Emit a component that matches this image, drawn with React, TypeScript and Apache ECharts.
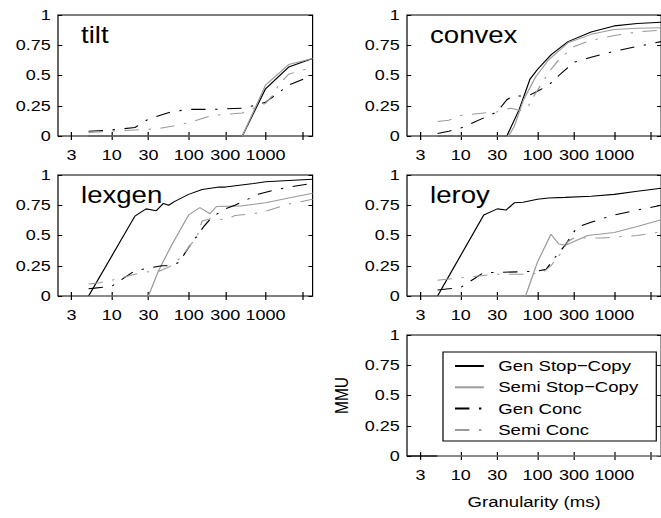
import React, { useEffect, useRef } from 'react';
import * as echarts from 'echarts';

// ---------- data ----------
const SERIES_NAMES = ['Gen Stop\u2212Copy', 'Semi Stop\u2212Copy', 'Gen Conc', 'Semi Conc'];
const PANEL_TITLES = ['tilt', 'convex', 'lexgen', 'leroy'];
const X_TICK_VALUES = [3, 10, 30, 100, 300, 1000, 3000];
const X_LABEL_VALUES = [3, 10, 30, 100, 300, 1000];
const X_MIN = 2;
const X_MAX = 4096;
const Y_AXIS_NAME = 'MMU';
const X_AXIS_NAME = 'Granularity (ms)';

const tiltGenStop = [[5, 0], [500, 0], [1000, 0.39], [2000, 0.57], [4096, 0.64]];
const tiltSemiStop = [[5, 0], [500, 0], [1000, 0.42], [2000, 0.59], [4096, 0.64]];
const tiltGenConc = [[5, 0.04], [10, 0.05], [20, 0.07], [30, 0.14], [60, 0.2], [100, 0.22], [200, 0.22], [500, 0.23], [700, 0.25], [1000, 0.28], [1500, 0.36], [2000, 0.42], [4096, 0.5]];
const tiltSemiConc = [[5, 0.03], [10, 0.04], [20, 0.05], [40, 0.06], [60, 0.08], [100, 0.11], [200, 0.17], [500, 0.19], [700, 0.23], [1000, 0.27], [1300, 0.35], [1500, 0.43], [2000, 0.51], [4096, 0.57]];

const convexGenStop = [[5, 0], [40, 0], [58, 0.22], [80, 0.47], [100, 0.55], [150, 0.67], [250, 0.78], [500, 0.86], [1000, 0.91], [2000, 0.93], [4096, 0.94]];
const convexSemiStop = [[5, 0], [42, 0], [50, 0.08], [66, 0.3], [95, 0.49], [140, 0.63], [250, 0.77], [500, 0.84], [1000, 0.88], [2000, 0.89], [4096, 0.895]];
const convexGenConc = [[5, 0.02], [7, 0.04], [10, 0.065], [20, 0.15], [30, 0.2], [40, 0.3], [48, 0.33], [75, 0.33], [100, 0.37], [140, 0.42], [190, 0.5], [300, 0.61], [500, 0.65], [1000, 0.7], [2000, 0.74], [4096, 0.78]];
const convexSemiConc = [[5, 0.12], [7, 0.13], [10, 0.17], [20, 0.19], [30, 0.2], [45, 0.23], [60, 0.21], [75, 0.24], [90, 0.33], [110, 0.42], [150, 0.55], [190, 0.63], [300, 0.74], [500, 0.79], [1000, 0.83], [2000, 0.86], [4096, 0.875]];

const lexgenGenStop = [[5, 0], [20, 0.66], [28, 0.72], [38, 0.705], [47, 0.765], [55, 0.75], [65, 0.78], [100, 0.84], [150, 0.88], [250, 0.9], [300, 0.9], [700, 0.93], [1000, 0.945], [2000, 0.955], [4096, 0.965]];
const lexgenSemiStop = [[5, 0], [30, 0], [40, 0.2], [60, 0.42], [100, 0.67], [140, 0.73], [190, 0.68], [230, 0.74], [500, 0.745], [1000, 0.77], [2000, 0.81], [4096, 0.85]];
const lexgenGenConc = [[5, 0.06], [6, 0.065], [10, 0.08], [20, 0.21], [30, 0.23], [45, 0.25], [60, 0.25], [75, 0.28], [100, 0.4], [130, 0.5], [160, 0.58], [200, 0.65], [300, 0.72], [400, 0.75], [800, 0.84], [1200, 0.87], [2000, 0.9], [4096, 0.93]];
const lexgenSemiConc = [[5, 0.1], [7, 0.11], [10, 0.13], [20, 0.18], [30, 0.2], [40, 0.2], [60, 0.25], [80, 0.32], [100, 0.4], [130, 0.5], [150, 0.62], [200, 0.64], [300, 0.63], [400, 0.665], [700, 0.68], [1000, 0.7], [2000, 0.76], [4096, 0.8]];

const leroyGenStop = [[5, 0], [20, 0.67], [30, 0.72], [39, 0.71], [50, 0.77], [65, 0.775], [100, 0.8], [140, 0.81], [230, 0.815], [500, 0.825], [1000, 0.84], [2000, 0.865], [4096, 0.89]];
const leroySemiStop = [[5, 0], [70, 0], [100, 0.28], [150, 0.51], [190, 0.43], [232, 0.42], [450, 0.5], [1000, 0.525], [2000, 0.575], [4096, 0.63]];
const leroyGenConc = [[5, 0.05], [7, 0.06], [10, 0.07], [20, 0.195], [30, 0.195], [60, 0.2], [100, 0.205], [130, 0.22], [170, 0.32], [230, 0.42], [330, 0.57], [500, 0.61], [1000, 0.67], [2000, 0.71], [4096, 0.75]];
const leroySemiConc = [[5, 0.13], [7, 0.14], [10, 0.15], [20, 0.17], [30, 0.18], [70, 0.18], [115, 0.19], [150, 0.25], [200, 0.35], [250, 0.45], [300, 0.48], [700, 0.48], [2000, 0.5], [4096, 0.53]];

const legendPanelGenStop = [[2, 0], [5, 0]];
const legendPanelSemiStop = [[5, 0], [4096, 0]];

const PANEL_DATA = [
  [tiltGenStop, tiltSemiStop, tiltGenConc, tiltSemiConc],
  [convexGenStop, convexSemiStop, convexGenConc, convexSemiConc],
  [lexgenGenStop, lexgenSemiStop, lexgenGenConc, lexgenSemiConc],
  [leroyGenStop, leroySemiStop, leroyGenConc, leroySemiConc],
];

// ---------- layout / style ----------
const S = 1.2; // horizontal stretch of the whole figure
const W = 661;
const H = 518;
const FONT = '"Liberation Sans", Arial, Helvetica, sans-serif';
const COLORS = ['#000000', '#9a9a9a', '#000000', '#9a9a9a'];
const DASHDOT = [12, 8, 2, 8];
const TYPES: any[] = ['solid', 'solid', DASHDOT, DASHDOT];
const COL_LEFT = [58, 407];
const ROW_TOP = [15, 175, 335];
const GRID_W = 254.6;
const GRID_H = 121;
const PANELS = [
  { c: 0, r: 0 },
  { c: 1, r: 0 },
  { c: 0, r: 1 },
  { c: 1, r: 1 },
  { c: 1, r: 2 },
];

const lg = (v: number) => Math.log10(v);

function makeSeries(name: string, k: number, gi: number, d: number[][]) {
  return {
    type: 'line',
    name,
    xAxisIndex: 2 * gi,
    yAxisIndex: 2 * gi,
    data: d.map(([x, y]) => [lg(x), y]),
    symbol: 'none',
    showSymbol: false,
    clip: false,
    lineStyle: { color: COLORS[k], width: 1.05, type: TYPES[k] },
    itemStyle: { color: COLORS[k] },
    z: 2 + k,
  };
}

function buildOption() {
  const grid: any[] = [];
  const xAxis: any[] = [];
  const yAxis: any[] = [];
  const series: any[] = [];
  const title: any[] = [];

  PANELS.forEach((p, i) => {
    grid.push({
      left: COL_LEFT[p.c] / S,
      top: ROW_TOP[p.r],
      width: GRID_W / S,
      height: GRID_H,
      show: true,
      borderColor: '#000',
      borderWidth: 1,
      backgroundColor: 'transparent',
      containLabel: false,
    });
    const isLegendPanel = i === 4;
    xAxis.push({
      type: 'value',
      gridIndex: i,
      position: 'bottom',
      min: lg(X_MIN),
      max: lg(X_MAX),
      axisLine: { show: false },
      splitLine: { show: false },
      axisTick: {
        inside: true,
        length: 4,
        customValues: X_TICK_VALUES.map(lg),
        lineStyle: { color: '#000', width: 1 },
      },
      axisLabel: {
        customValues: X_LABEL_VALUES.map(lg),
        formatter: (v: number) => String(Math.round(Math.pow(10, v))),
        fontSize: 15,
        color: '#000',
        fontFamily: FONT,
        margin: 11.5,
      },
      name: isLegendPanel ? X_AXIS_NAME : '',
      nameLocation: 'middle',
      nameGap: 38,
      nameTextStyle: { fontSize: 15.5, color: '#000', fontFamily: FONT },
    });
    xAxis.push({
      type: 'value',
      gridIndex: i,
      position: 'top',
      min: lg(X_MIN),
      max: lg(X_MAX),
      axisLine: { show: false },
      splitLine: { show: false },
      axisTick: {
        inside: true,
        length: 4,
        customValues: X_TICK_VALUES.map(lg),
        lineStyle: { color: '#000', width: 1 },
      },
      axisLabel: { show: false },
    });
    yAxis.push({
      type: 'value',
      gridIndex: i,
      position: 'left',
      min: 0,
      max: 1,
      interval: 0.25,
      axisLine: { show: false },
      splitLine: { show: false },
      axisTick: { inside: true, length: 3.5, lineStyle: { color: '#000', width: 1 } },
      axisLabel: { fontSize: 15, color: '#000', fontFamily: FONT, margin: 6 },
      name: isLegendPanel ? Y_AXIS_NAME : '',
      nameLocation: 'middle',
      nameGap: 46,
      nameTextStyle: { fontSize: 15.5, color: '#000', fontFamily: FONT },
    });
    yAxis.push({
      type: 'value',
      gridIndex: i,
      position: 'right',
      min: 0,
      max: 1,
      interval: 0.25,
      axisLine: { show: false },
      splitLine: { show: false },
      axisTick: { inside: true, length: 3.5, lineStyle: { color: '#000', width: 1 } },
      axisLabel: { show: false },
    });

    if (!isLegendPanel) {
      title.push({
        text: PANEL_TITLES[i],
        left: (COL_LEFT[p.c] + 23) / S,
        top: ROW_TOP[p.r] + 8.6,
        padding: 0,
        textStyle: { fontSize: 23, fontWeight: 'normal', color: '#000', fontFamily: FONT },
      });
      PANEL_DATA[i].forEach((d, k) => series.push(makeSeries(SERIES_NAMES[k], k, i, d)));
    } else {
      [legendPanelGenStop, legendPanelSemiStop].forEach((d, k) =>
        series.push(makeSeries(SERIES_NAMES[k], k, i, d))
      );
    }
  });

  return {
    animation: false,
    backgroundColor: '#fff',
    textStyle: { fontFamily: FONT },
    title,
    grid,
    xAxis,
    yAxis,
    series,
    legend: {
      data: SERIES_NAMES,
      orient: 'vertical',
      left: 443 / S,
      top: 352,
      itemWidth: 24,
      itemHeight: 14,
      itemGap: 5.3,
      padding: [6, 15, 3, 9],
      borderColor: '#000',
      borderWidth: 1,
      backgroundColor: '#fff',
      selectedMode: false,
      itemStyle: { opacity: 0 },
      textStyle: { fontSize: 15.5, color: '#000', fontFamily: FONT, padding: [0, 0, 0, 7] },
    },
  };
}

export default function App() {
  const ref = useRef<HTMLDivElement>(null);
  useEffect(() => {
    if (!ref.current) return;
    const chart = echarts.init(ref.current, null, { renderer: 'svg' });
    chart.setOption(buildOption() as any);
    return () => chart.dispose();
  }, []);
  return (
    <div
      ref={ref}
      style={{
        position: 'absolute',
        left: 0,
        top: 0,
        width: W / S,
        height: H,
        transform: `scaleX(${S})`,
        transformOrigin: '0 0',
      }}
    />
  );
}
